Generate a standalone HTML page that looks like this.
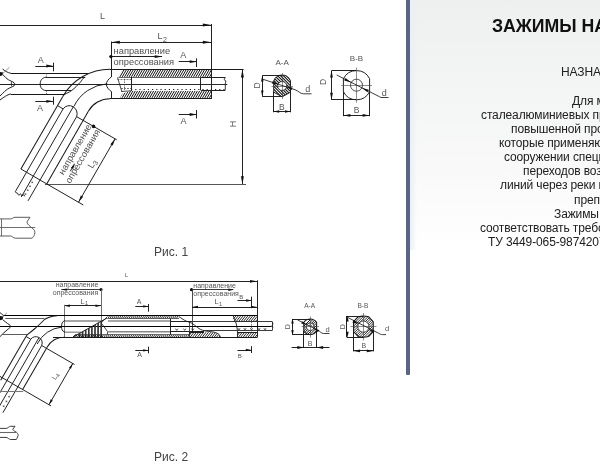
<!DOCTYPE html>
<html><head><meta charset="utf-8"><title>Зажимы натяжные</title>
<style>
html,body{margin:0;padding:0;background:#fff;}
body{width:600px;height:467px;overflow:hidden;position:relative;font-family:"Liberation Sans",sans-serif;}
#panel{position:absolute;left:410px;top:0;width:190px;height:467px;background:linear-gradient(to bottom,#eeefef 0px,#f4f5f5 100px,#fafafa 185px,#ffffff 250px);}
#edge{position:absolute;left:410px;top:0;width:7px;height:250px;background:linear-gradient(to right,#eaf0f2,rgba(240,241,241,0));}
#bar{position:absolute;left:406px;top:0;width:4px;height:374.5px;background:#5a6487;border-radius:0 0 1px 1px;}
.t{position:absolute;white-space:nowrap;color:#202020;font-size:12px;line-height:14px;letter-spacing:-0.12px;}
#title{position:absolute;left:491.9px;top:15.7px;font-size:17.7px;font-weight:bold;color:#111;white-space:nowrap;line-height:20px;}
svg{position:absolute;left:0;top:0;will-change:transform;}
.t,#title{will-change:transform;}
svg text{font-family:"Liberation Sans",sans-serif;}
</style></head><body>
<div id="panel"></div><div id="edge"></div><div id="bar"></div>
<div id="title">ЗАЖИМЫ НАТЯЖНЫЕ</div>
<div class="t" style="left:561.4px;top:65.1px">НАЗНАЧЕНИЕ</div>
<div class="t" style="left:571.8px;top:93.55px">Для монтажа</div>
<div class="t" style="left:480.6px;top:107.69px">сталеалюминиевых проводов</div>
<div class="t" style="left:510.6px;top:121.83px">повышенной прочности,</div>
<div class="t" style="left:499.0px;top:135.97px">которые применяются при</div>
<div class="t" style="left:503.55px;top:150.11px">сооружении специальных</div>
<div class="t" style="left:523.3px;top:164.25px">переходов воздушных</div>
<div class="t" style="left:500px;top:178.39px">линий через реки и другие</div>
<div class="t" style="left:573.75px;top:192.53px">препятствия.</div>
<div class="t" style="left:553.75px;top:206.67px">Зажимы должны</div>
<div class="t" style="left:480px;top:220.81px">соответствовать требованиям</div>
<div class="t" style="left:487.6px;top:234.95px">ТУ 3449-065-98742073-2008</div>
<svg width="600" height="467" viewBox="0 0 600 467">
<line x1="0" y1="25.5" x2="211.3" y2="25.5" stroke="#181818" stroke-width="0.96" />
<polygon points="211.3,25 202.8,26.5 202.8,23.5" fill="#111"/>
<text x="102.5" y="19" font-size="9" fill="#555" text-anchor="middle" font-weight="normal" >L</text>
<line x1="111.3" y1="42.5" x2="211.3" y2="42.5" stroke="#181818" stroke-width="0.96" />
<polygon points="111.3,42.3 119.8,40.8 119.8,43.8" fill="#111"/>
<polygon points="211.3,42.3 202.8,43.8 202.8,40.8" fill="#111"/>
<text x="160" y="39" font-size="9" fill="#555" text-anchor="middle" font-weight="normal" >L</text>
<text x="163" y="41.5" font-size="7" fill="#555" text-anchor="start" font-weight="normal" >2</text>
<line x1="111.5" y1="41.5" x2="111.5" y2="77" stroke="#181818" stroke-width="0.96" />
<line x1="111.5" y1="91.5" x2="111.5" y2="99" stroke="#181818" stroke-width="0.96" />
<line x1="211.5" y1="24" x2="211.5" y2="99" stroke="#181818" stroke-width="0.96" />
<text x="113.6" y="54.4" font-size="9.3" fill="#505050" text-anchor="start" font-weight="normal" >направление</text>
<text x="113.6" y="64.6" font-size="9.3" fill="#505050" text-anchor="start" font-weight="normal" >опрессования</text>
<line x1="110.7" y1="56.5" x2="162" y2="56.5" stroke="#181818" stroke-width="0.96" />
<polygon points="162.7,56.6 154.7,57.98 154.7,55.23" fill="#111"/>
<circle cx="110.9" cy="56.6" r="1.7" stroke="none" stroke-width="0" fill="#111"/>
<text x="183.3" y="58.2" font-size="9" fill="#555" text-anchor="middle" font-weight="normal" >A</text>
<line x1="178.7" y1="61.5" x2="196.7" y2="61.5" stroke="#181818" stroke-width="0.96" />
<polygon points="196.7,61.7 189.7,63.08 189.7,60.33" fill="#111"/>
<line x1="196.5" y1="58.3" x2="196.5" y2="67" stroke="#181818" stroke-width="0.96" />
<text x="183.5" y="123.5" font-size="9" fill="#555" text-anchor="middle" font-weight="normal" >A</text>
<line x1="178.7" y1="114.5" x2="196.7" y2="114.5" stroke="#181818" stroke-width="0.96" />
<polygon points="196.7,114.5 189.7,115.88 189.7,113.12" fill="#111"/>
<line x1="196.5" y1="110" x2="196.5" y2="118.5" stroke="#181818" stroke-width="0.96" />
<text x="40.7" y="63" font-size="9" fill="#555" text-anchor="middle" font-weight="normal" >A</text>
<line x1="35.3" y1="66.5" x2="53.3" y2="66.5" stroke="#181818" stroke-width="0.96" />
<polygon points="53.3,66 46.3,67.38 46.3,64.62" fill="#111"/>
<line x1="53.5" y1="62.7" x2="53.5" y2="71.3" stroke="#181818" stroke-width="0.96" />
<text x="40" y="110.5" font-size="9" fill="#555" text-anchor="middle" font-weight="normal" >A</text>
<line x1="35.3" y1="101.5" x2="53.3" y2="101.5" stroke="#181818" stroke-width="0.96" />
<polygon points="53.3,101.3 46.3,102.67 46.3,99.92" fill="#111"/>
<line x1="53.5" y1="96.7" x2="53.5" y2="104.7" stroke="#181818" stroke-width="0.96" />
<line x1="111.3" y1="69.5" x2="243.6" y2="69.5" stroke="#181818" stroke-width="1.08" />
<line x1="111.3" y1="98.5" x2="211.3" y2="98.5" stroke="#181818" stroke-width="1.08" />
<clipPath id="cH1"><path d="M118.3 77.2 L122.4 70 H211.5 V77.2 Z"/></clipPath>
<path d="M117 73.98L119.3 70M117.62 76.9L121.6 70M119.92 76.9L123.9 70M122.22 76.9L126.2 70M124.52 76.9L128.5 70M126.82 76.9L130.8 70M129.12 76.9L133.1 70M131.42 76.9L135.4 70M133.72 76.9L137.7 70M136.02 76.9L140 70M138.32 76.9L142.3 70M140.62 76.9L144.6 70M142.92 76.9L146.9 70M145.22 76.9L149.2 70M147.52 76.9L151.5 70M149.82 76.9L153.8 70M152.12 76.9L156.1 70M154.42 76.9L158.4 70M156.72 76.9L160.7 70M159.02 76.9L163 70M161.32 76.9L165.3 70M163.62 76.9L167.6 70M165.92 76.9L169.9 70M168.22 76.9L172.2 70M170.52 76.9L174.5 70M172.82 76.9L176.8 70M175.12 76.9L179.1 70M177.42 76.9L181.4 70M179.72 76.9L183.7 70M182.02 76.9L186 70M184.32 76.9L188.3 70M186.62 76.9L190.6 70M188.92 76.9L192.9 70M191.22 76.9L195.2 70M193.52 76.9L197.5 70M195.82 76.9L199.8 70M198.12 76.9L202.1 70M200.42 76.9L204.4 70M202.72 76.9L206.7 70M205.02 76.9L209 70M207.32 76.9L211.3 70M209.62 76.9L211.5 73.64" stroke="#000" stroke-width="0.9359999999999999" fill="none" clip-path="url(#cH1)"/>
<clipPath id="cH2"><path d="M119.8 98.2 L122.3 93.8 L131.3 90.7 H211.5 V98.2 Z"/></clipPath>
<path d="M117 94.68L119.3 90.7M117.44 97.9L121.6 90.7M119.74 97.9L123.9 90.7M122.04 97.9L126.2 90.7M124.34 97.9L128.5 90.7M126.64 97.9L130.8 90.7M128.94 97.9L133.1 90.7M131.24 97.9L135.4 90.7M133.54 97.9L137.7 90.7M135.84 97.9L140 90.7M138.14 97.9L142.3 90.7M140.44 97.9L144.6 90.7M142.74 97.9L146.9 90.7M145.04 97.9L149.2 90.7M147.34 97.9L151.5 90.7M149.64 97.9L153.8 90.7M151.94 97.9L156.1 90.7M154.24 97.9L158.4 90.7M156.54 97.9L160.7 90.7M158.84 97.9L163 90.7M161.14 97.9L165.3 90.7M163.44 97.9L167.6 90.7M165.74 97.9L169.9 90.7M168.04 97.9L172.2 90.7M170.34 97.9L174.5 90.7M172.64 97.9L176.8 90.7M174.94 97.9L179.1 90.7M177.24 97.9L181.4 90.7M179.54 97.9L183.7 90.7M181.84 97.9L186 90.7M184.14 97.9L188.3 90.7M186.44 97.9L190.6 90.7M188.74 97.9L192.9 90.7M191.04 97.9L195.2 90.7M193.34 97.9L197.5 90.7M195.64 97.9L199.8 90.7M197.94 97.9L202.1 90.7M200.24 97.9L204.4 90.7M202.54 97.9L206.7 90.7M204.84 97.9L209 90.7M207.14 97.9L211.3 90.7M209.44 97.9L211.5 94.34" stroke="#000" stroke-width="0.9359999999999999" fill="none" clip-path="url(#cH2)"/>
<line x1="118.4" y1="77.5" x2="211.3" y2="77.5" stroke="#444" stroke-width="0.84" />
<path d="M117.5 77.5 L122 92" stroke="#222" stroke-width="0.84" fill="none" />
<line x1="131.5" y1="77" x2="131.5" y2="91" stroke="#181818" stroke-width="0.96" />
<line x1="117.5" y1="79.5" x2="131" y2="79.5" stroke="#444" stroke-width="0.72" stroke-dasharray="2 1"/>
<line x1="124.5" y1="79" x2="124.5" y2="90" stroke="#333" stroke-width="0.72" stroke-dasharray="1.5 1"/>
<line x1="121" y1="88.5" x2="131" y2="88.5" stroke="#444" stroke-width="0.72" stroke-dasharray="2 1"/>
<path d="M121.5 91.5 L131.2 90.8" stroke="#222" stroke-width="0.84" fill="none" />
<line x1="106.3" y1="84.5" x2="227.3" y2="84.5" stroke="#222" stroke-width="0.96" />
<line x1="201.2" y1="77.5" x2="225.3" y2="77.5" stroke="#181818" stroke-width="0.96" />
<line x1="201.2" y1="90.5" x2="225.3" y2="90.5" stroke="#181818" stroke-width="0.96" />
<line x1="200.5" y1="77.5" x2="200.5" y2="90.3" stroke="#181818" stroke-width="0.96" />
<path d="M225.3 77.5 l-1.2 2.2 l1.8 1.2 l-0.6 3 v6" stroke="#181818" stroke-width="0.84" fill="none" />
<line x1="131" y1="89.5" x2="225" y2="89.5" stroke="#222" stroke-width="1.08" stroke-dasharray="1.2 3"/>
<line x1="242.5" y1="69.6" x2="242.5" y2="184.2" stroke="#181818" stroke-width="0.96" />
<polygon points="242.4,69.6 243.9,77.6 240.9,77.6" fill="#111"/>
<polygon points="242.4,184.2 240.9,176.2 243.9,176.2" fill="#111"/>
<line x1="45" y1="184.5" x2="246" y2="184.5" stroke="#555" stroke-width="1.08" />
<text x="235.5" y="124" font-size="9" fill="#555" text-anchor="middle" font-weight="normal" transform="rotate(-90 235.5 124)" >H</text>
<line x1="10.9" y1="73.5" x2="88.2" y2="73.5" stroke="#181818" stroke-width="1.08" />
<line x1="46" y1="77.5" x2="85.2" y2="77.5" stroke="#181818" stroke-width="0.96" />
<line x1="0" y1="84.5" x2="107" y2="84.5" stroke="#181818" stroke-width="0.96" />
<line x1="46" y1="90.5" x2="71.5" y2="90.5" stroke="#181818" stroke-width="0.96" />
<line x1="11" y1="94.5" x2="65.2" y2="94.5" stroke="#181818" stroke-width="1.08" />
<path d="M46 77.2 C41.5 77.8 40.2 81 40.2 84 C40.2 87 41.5 90 46 90.6" stroke="#181818" stroke-width="0.96" fill="none" />
<line x1="46.5" y1="73.3" x2="46.5" y2="77.2" stroke="#444" stroke-width="0.72" stroke-dasharray="1.2 1"/>
<line x1="46.5" y1="90.6" x2="46.5" y2="94" stroke="#444" stroke-width="0.72" stroke-dasharray="1.2 1"/>
<path d="M85.2 77.2 C82.5 78 82 80.5 80.2 82.4 C77 85.5 75 88.2 71.5 90.6 C69 92.3 67 93.4 64.4 94.1" stroke="#181818" stroke-width="0.96" fill="none" />
<path d="M2.6 69 C4.5 70.5 7.5 72.8 10.9 73.3" stroke="#181818" stroke-width="0.96" fill="none" />
<path d="M2.6 74.3 C4.5 76.5 6.5 78.6 8.5 79.8 C10.3 80.9 12 81.3 12.9 82 C14.8 82.8 15.2 84.9 14 85.8 C12.6 86.8 10 87.6 7.7 89 C5.5 90.4 3.5 92.6 0 96" stroke="#181818" stroke-width="0.96" fill="none" />
<path d="M12 81.6 C11 82.8 11 85.3 12 86.5" stroke="#181818" stroke-width="0.84" fill="none" />
<path d="M11 94 C8.5 94.3 6 95.6 0 100" stroke="#181818" stroke-width="0.96" fill="none" />
<polygon points="0,72 3.2,72.6 2.2,75.6 0,76" fill="#111"/>
<line x1="2.6" y1="73.6" x2="9.6" y2="67.2" stroke="#555" stroke-width="0.6" />
<line x1="110" y1="69.5" x2="111.5" y2="69.5" stroke="#181818" stroke-width="1.02" />
<path d="M110 69.2 A54.5 54.5 0 0 0 62.8 96.45" stroke="#181818" stroke-width="1.02" fill="none" />
<line x1="110" y1="98.5" x2="111.5" y2="98.5" stroke="#181818" stroke-width="1.02" />
<path d="M110 98.7 A25 25 0 0 0 88.35 111.2" stroke="#181818" stroke-width="1.02" fill="none" />
<path d="M107.21 83.8 A40 40 0 0 0 74.05 106.17" stroke="#181818" stroke-width="0.96" fill="none" />
<path d="M111.5 76.8 C108.5 79 106.5 81.5 106.3 84.2 C106.5 87 108.5 89.5 111.5 91.7" stroke="#181818" stroke-width="0.96" fill="none" />
<line x1="62.8" y1="96.45" x2="20.9" y2="168.99" stroke="#181818" stroke-width="1.02" />
<line x1="88.35" y1="111.2" x2="46.71" y2="183.89" stroke="#181818" stroke-width="1.02" />
<line x1="63.13" y1="108.85" x2="15.28" y2="191.73" stroke="#181818" stroke-width="0.96" />
<line x1="73.48" y1="106.51" x2="21.28" y2="196.93" stroke="#181818" stroke-width="0.96" />
<line x1="76.64" y1="116.65" x2="28.04" y2="200.83" stroke="#181818" stroke-width="0.96" />
<line x1="57.5" y1="105.6" x2="63.13" y2="108.85" stroke="#181818" stroke-width="0.96" />
<path d="M63.13 108.85 A7.8 8.19 0 0 1 76.64 116.65" stroke="#181818" stroke-width="0.96" fill="none" />
<line x1="76.64" y1="116.65" x2="116.82" y2="139.85" stroke="#181818" stroke-width="0.96" />
<line x1="20.9" y1="168.99" x2="83.25" y2="204.99" stroke="#181818" stroke-width="0.96" />
<line x1="115.09" y1="138.85" x2="78.49" y2="202.24" stroke="#181818" stroke-width="0.96" />
<polygon points="115.09,138.85 112.78,145.6 110.4,144.22" fill="#111"/>
<polygon points="78.49,202.24 80.8,195.49 83.18,196.87" fill="#111"/>
<circle cx="93.53" cy="126.4" r="1.8" stroke="none" stroke-width="0" fill="#111"/>
<path d="M15.28 191.73 q0.5 1.6 2 1.2 l1.5 2.4 l1.8 -1.6 l1.2 2.2 l2.2 -1.2 l0.8 1.6" stroke="#181818" stroke-width="0.84" fill="none" />
<path d="M31.19 182.04l2 0.8M31.99 183.24l0.6 -1.8" stroke="#333" stroke-width="0.6" fill="none" />
<path d="M28.94 185.94l2 0.8M29.74 187.14l0.6 -1.8" stroke="#333" stroke-width="0.6" fill="none" />
<path d="M26.69 189.83l2 0.8M27.49 191.03l0.6 -1.8" stroke="#333" stroke-width="0.6" fill="none" />
<path d="M24.44 193.73l2 0.8M25.24 194.93l0.6 -1.8" stroke="#333" stroke-width="0.6" fill="none" />
<text x="63.61" y="175.41" font-size="9.3" fill="#505050" text-anchor="start" font-weight="normal" transform="rotate(-60 63.61 175.41)" >направление</text>
<text x="70.22" y="183.96" font-size="9.3" fill="#505050" text-anchor="start" font-weight="normal" transform="rotate(-60 70.22 183.96)" >опрессования</text>
<line x1="74.27" y1="164.36" x2="70.27" y2="171.28" stroke="#181818" stroke-width="0.96" />
<polygon points="75.02,163.06 73.1,168.88 70.94,167.63" fill="#111"/>
<text x="92.44" y="169.08" font-size="9" fill="#555" text-anchor="start" font-weight="normal" transform="rotate(-60 92.44 169.08)" >L</text>
<text x="96.68" y="165.75" font-size="7" fill="#555" text-anchor="start" font-weight="normal" transform="rotate(-60 96.68 165.75)" >3</text>
<path d="M0 218.9 H10.7 C12.5 218.9 13 217.3 15 217.3 H30 L26.9 222 C27.5 224.5 29.5 226 31.5 227.6 C34.5 229.5 35.5 231.5 34.6 234.2 C34 236.2 33 237.5 32 238.2 H15.5 C13 238.2 12.5 236 10.7 236 H0" stroke="#555" stroke-width="0.96" fill="none" />
<line x1="0" y1="227.5" x2="35.3" y2="227.5" stroke="#555" stroke-width="0.84" />
<line x1="1.5" y1="218.9" x2="1.5" y2="236" stroke="#555" stroke-width="0.84" />
<text x="154" y="256" font-size="12" fill="#444" text-anchor="start" font-weight="normal" >Рис. 1</text>
<text x="282.2" y="65" font-size="8" fill="#555" text-anchor="middle" font-weight="normal" >A-A</text>
<clipPath id="cAA"><path d="M273.7 81 A8.9 8.9 0 0 1 290.5 81 V92.2 L282.2 96.8 L273.7 92.2 Z M286.7 86 A4.5 4.5 0 1 0 277.7 86 A4.5 4.5 0 1 0 286.7 86 Z" clip-rule="evenodd"/></clipPath>
<path d="M240 70L270 100M242.9 70L272.9 100M245.8 70L275.8 100M248.7 70L278.7 100M251.6 70L281.6 100M254.5 70L284.5 100M257.4 70L287.4 100M260.3 70L290.3 100M263.2 70L293.2 100M266.1 70L296.1 100M269 70L299 100M271.9 70L301.9 100M274.8 70L304.8 100M277.7 70L307.7 100M280.6 70L310.6 100M283.5 70L313.5 100M286.4 70L316.4 100M289.3 70L319.3 100M292.2 70L322.2 100M295.1 70L325.1 100M298 70L328 100" stroke="#111" stroke-width="1.08" fill="none" clip-path="url(#cAA)"/>
<path d="M273.7 81 A8.9 8.9 0 0 1 290.5 81 V92.2 L282.2 96.8 L273.7 92.2 Z" stroke="#181818" stroke-width="0.96" fill="none" />
<circle cx="282.2" cy="86" r="4.5" stroke="#222" stroke-width="0.8" fill="none"/>
<line x1="282.5" y1="73" x2="282.5" y2="99" stroke="#444" stroke-width="0.6" />
<line x1="271.5" y1="86.5" x2="293" y2="86.5" stroke="#444" stroke-width="0.6" />
<line x1="262.5" y1="75.5" x2="262.5" y2="96.6" stroke="#181818" stroke-width="0.96" />
<line x1="262.3" y1="75.5" x2="282" y2="75.5" stroke="#181818" stroke-width="0.96" />
<line x1="262.3" y1="96.5" x2="282" y2="96.5" stroke="#181818" stroke-width="0.96" />
<polygon points="262.3,75.5 263.55,81.5 261.05,81.5" fill="#111"/>
<polygon points="262.3,96.6 261.05,90.6 263.55,90.6" fill="#111"/>
<text x="259.5" y="85.5" font-size="8.5" fill="#555" text-anchor="middle" font-weight="normal" transform="rotate(-90 259.5 85.5)" >D</text>
<line x1="273.5" y1="92" x2="273.5" y2="112.3" stroke="#181818" stroke-width="0.96" />
<line x1="290.5" y1="92" x2="290.5" y2="112.3" stroke="#181818" stroke-width="0.96" />
<line x1="273.7" y1="111.5" x2="290.5" y2="111.5" stroke="#181818" stroke-width="0.96" />
<polygon points="273.7,111.5 279.2,110.25 279.2,112.75" fill="#111"/>
<polygon points="290.5,111.5 285,112.75 285,110.25" fill="#111"/>
<text x="281.9" y="110" font-size="8.5" fill="#555" text-anchor="middle" font-weight="normal" >B</text>
<path d="M262.7 79.2 L295 89.7 C299 91.2 300 93.7 303.5 93.8 H311.5" stroke="#181818" stroke-width="0.84" fill="none" />
<polygon points="278,84.2 271.91,83.53 272.68,81.16" fill="#111"/>
<polygon points="286.4,86.9 292.49,87.57 291.72,89.94" fill="#111"/>
<text x="307.7" y="91.5" font-size="9" fill="#555" text-anchor="middle" font-weight="normal" >d</text>
<text x="356.5" y="61" font-size="8" fill="#555" text-anchor="middle" font-weight="normal" >B-B</text>
<path d="M343.4 78.75 A14.6 14.6 0 0 1 369.6 78.75 V91.65 A14.6 14.6 0 0 1 343.4 91.65 Z" stroke="#181818" stroke-width="0.96" fill="none" />
<circle cx="356.5" cy="85.2" r="6" stroke="#222" stroke-width="0.8" fill="none"/>
<line x1="356.5" y1="67.5" x2="356.5" y2="102.7" stroke="#444" stroke-width="0.6" />
<line x1="341.2" y1="85.5" x2="372" y2="85.5" stroke="#444" stroke-width="0.6" />
<line x1="331.5" y1="70.6" x2="331.5" y2="99.8" stroke="#181818" stroke-width="0.96" />
<line x1="331.5" y1="70.5" x2="356" y2="70.5" stroke="#181818" stroke-width="0.96" />
<line x1="331.5" y1="99.5" x2="356" y2="99.5" stroke="#181818" stroke-width="0.96" />
<polygon points="331.5,70.6 332.88,77.6 330.12,77.6" fill="#111"/>
<polygon points="331.5,99.8 330.12,92.8 332.88,92.8" fill="#111"/>
<text x="326.2" y="82" font-size="8.5" fill="#555" text-anchor="middle" font-weight="normal" transform="rotate(-90 326.2 82)" >D</text>
<line x1="343.5" y1="91.65" x2="343.5" y2="116.2" stroke="#181818" stroke-width="0.96" />
<line x1="369.5" y1="91.65" x2="369.5" y2="116.2" stroke="#181818" stroke-width="0.96" />
<line x1="343.4" y1="115.5" x2="369.6" y2="115.5" stroke="#181818" stroke-width="0.96" />
<polygon points="343.4,115.4 350.4,114.03 350.4,116.78" fill="#111"/>
<polygon points="369.6,115.4 362.6,116.78 362.6,114.03" fill="#111"/>
<text x="356.5" y="113.2" font-size="8.5" fill="#555" text-anchor="middle" font-weight="normal" >B</text>
<path d="M336.7 75 L379.5 96.7 L381 97.5 H388.5" stroke="#181818" stroke-width="0.84" fill="none" />
<polygon points="351.1,82.4 344.24,80.45 345.49,78" fill="#111"/>
<polygon points="361.9,87.9 368.76,89.85 367.51,92.3" fill="#111"/>
<text x="384.3" y="96" font-size="9" fill="#555" text-anchor="middle" font-weight="normal" >d</text>
<line x1="0" y1="281.5" x2="257" y2="281.5" stroke="#181818" stroke-width="0.96" />
<polygon points="257,281.3 250,282.68 250,279.93" fill="#111"/>
<line x1="257.5" y1="280.3" x2="257.5" y2="337.5" stroke="#181818" stroke-width="0.96" />
<text x="126.3" y="277" font-size="6" fill="#555" text-anchor="middle" font-weight="normal" >L</text>
<text x="98.3" y="287.3" font-size="7" fill="#555" text-anchor="end" font-weight="normal" >направление</text>
<text x="98.3" y="295.4" font-size="7" fill="#555" text-anchor="end" font-weight="normal" >опрессования</text>
<line x1="61.3" y1="289.5" x2="101" y2="289.5" stroke="#181818" stroke-width="0.84" />
<polygon points="61.3,289.6 66.8,288.41 66.8,290.79" fill="#111"/>
<circle cx="101" cy="289.6" r="1.6" stroke="none" stroke-width="0" fill="#111"/>
<line x1="101.5" y1="289.6" x2="101.5" y2="320.8" stroke="#666" stroke-width="0.96" />
<line x1="64.4" y1="305.5" x2="101" y2="305.5" stroke="#181818" stroke-width="0.96" />
<polygon points="64.4,305.7 69.9,304.51 69.9,306.89" fill="#111"/>
<polygon points="101,305.7 95.5,306.89 95.5,304.51" fill="#111"/>
<line x1="64.5" y1="304.8" x2="64.5" y2="337.5" stroke="#707070" stroke-width="0.96" />
<text x="82.5" y="303.5" font-size="7.5" fill="#555" text-anchor="middle" font-weight="normal" >L</text>
<text x="85" y="305.3" font-size="5.5" fill="#555" text-anchor="start" font-weight="normal" >1</text>
<text x="139" y="304.3" font-size="7" fill="#555" text-anchor="middle" font-weight="normal" >A</text>
<line x1="135.3" y1="306.5" x2="148.7" y2="306.5" stroke="#181818" stroke-width="0.96" />
<polygon points="148.7,306.4 143.2,307.59 143.2,305.21" fill="#111"/>
<line x1="148.5" y1="304" x2="148.5" y2="311.7" stroke="#181818" stroke-width="0.96" />
<text x="139.6" y="357.4" font-size="7" fill="#555" text-anchor="middle" font-weight="normal" >A</text>
<line x1="135.3" y1="350.5" x2="148.7" y2="350.5" stroke="#181818" stroke-width="0.96" />
<polygon points="148.7,350.4 143.2,351.59 143.2,349.21" fill="#111"/>
<line x1="148.5" y1="346.7" x2="148.5" y2="353.3" stroke="#181818" stroke-width="0.96" />
<text x="193.3" y="287.6" font-size="7" fill="#555" text-anchor="start" font-weight="normal" >направление</text>
<text x="193.3" y="295.5" font-size="7" fill="#555" text-anchor="start" font-weight="normal" >опрессования</text>
<line x1="191.3" y1="289.5" x2="233.3" y2="289.5" stroke="#181818" stroke-width="0.84" />
<polygon points="233.8,289.7 228.3,290.89 228.3,288.51" fill="#111"/>
<circle cx="191.5" cy="289.7" r="1.6" stroke="none" stroke-width="0" fill="#111"/>
<line x1="192.5" y1="289.7" x2="192.5" y2="333" stroke="#444" stroke-width="0.96" />
<text x="241.3" y="298.8" font-size="6" fill="#555" text-anchor="middle" font-weight="normal" >B</text>
<line x1="237.5" y1="300.5" x2="251.7" y2="300.5" stroke="#181818" stroke-width="0.96" />
<polygon points="251.7,300.5 246.2,301.69 246.2,299.31" fill="#111"/>
<line x1="251.5" y1="296.7" x2="251.5" y2="306.7" stroke="#181818" stroke-width="0.96" />
<text x="239.7" y="358" font-size="6" fill="#555" text-anchor="middle" font-weight="normal" >B</text>
<line x1="237.5" y1="350.5" x2="251.3" y2="350.5" stroke="#181818" stroke-width="0.96" />
<polygon points="251.3,350 245.8,351.19 245.8,348.81" fill="#111"/>
<line x1="251.5" y1="346.2" x2="251.5" y2="353" stroke="#181818" stroke-width="0.96" />
<line x1="192" y1="307.5" x2="257" y2="307.5" stroke="#181818" stroke-width="0.96" />
<polygon points="192,307 198,305.75 198,308.25" fill="#111"/>
<polygon points="257,307 251,308.25 251,305.75" fill="#111"/>
<text x="216.5" y="304" font-size="7.5" fill="#555" text-anchor="middle" font-weight="normal" >L</text>
<text x="219" y="306" font-size="5.5" fill="#555" text-anchor="start" font-weight="normal" >1</text>
<line x1="4" y1="315.5" x2="257" y2="315.5" stroke="#000" stroke-width="1.14" />
<line x1="53" y1="337.5" x2="257" y2="337.5" stroke="#181818" stroke-width="1.08" />
<line x1="0" y1="326.5" x2="271.7" y2="326.5" stroke="#000" stroke-width="1.08" />
<line x1="5.3" y1="318.5" x2="44.5" y2="318.5" stroke="#555" stroke-width="0.96" />
<path d="M0 312.6 C1.5 313.8 2.8 315.2 4 315.6" stroke="#181818" stroke-width="0.96" fill="none" />
<polygon points="0,315.9 3.3,316.4 2.7,319.6 0,320.2" fill="#111"/>
<line x1="2" y1="317.6" x2="7" y2="312.8" stroke="#555" stroke-width="0.6" />
<path d="M2.9 319.8 C4.5 321.2 6 322.3 7.3 323.3 C8.6 324.2 9.6 324.9 10.1 325.4 C10.9 326 10.9 326.8 10.2 327.4 C9.2 328.3 7.6 329.5 6 330.9 C4.2 332.4 2.3 334.3 0 336.6" stroke="#181818" stroke-width="0.96" fill="none" />
<line x1="2" y1="334.5" x2="27.5" y2="334.5" stroke="#555" stroke-width="0.96" />
<path d="M65 320.5 C62 321.5 61.5 324 61.5 326.5 C61.5 329 62 331.2 65 332.2" stroke="#181818" stroke-width="0.96" fill="none" />
<line x1="65" y1="321" x2="101" y2="321" stroke="#888" stroke-width="1.5"/>
<line x1="65" y1="332.2" x2="81" y2="332.2" stroke="#888" stroke-width="1.3"/>
<clipPath id="cCut"><path d="M73 337 L107 318 V337 Z"/></clipPath>
<path d="M79.5 316V338M82.6 316V338M85.7 316V338M88.8 316V338M91.9 316V338M95 316V338M98.1 316V338M101.2 316V338" stroke="#333" stroke-width="1.68" fill="none" clip-path="url(#cCut)"/>
<line x1="73" y1="337" x2="107" y2="318" stroke="#181818" stroke-width="0.96" />
<path d="M107.96 318.6L109.4 316.1M109.86 318.6L111.3 316.1M111.76 318.6L113.2 316.1M113.66 318.6L115.1 316.1M115.56 318.6L117 316.1M117.46 318.6L118.9 316.1M119.36 318.6L120.8 316.1M121.26 318.6L122.7 316.1M123.16 318.6L124.6 316.1M125.06 318.6L126.5 316.1M126.96 318.6L128.4 316.1M128.86 318.6L130.3 316.1M130.76 318.6L132.2 316.1M132.66 318.6L134.1 316.1M134.56 318.6L136 316.1M136.46 318.6L137.9 316.1M138.36 318.6L139.8 316.1M140.26 318.6L141.7 316.1M142.16 318.6L143.6 316.1M144.06 318.6L145.5 316.1M145.96 318.6L147.4 316.1M147.86 318.6L149.3 316.1M149.76 318.6L151.2 316.1M151.66 318.6L153.1 316.1M153.56 318.6L155 316.1M155.46 318.6L156.9 316.1M157.36 318.6L158.8 316.1M159.26 318.6L160.7 316.1M161.16 318.6L162.6 316.1M163.06 318.6L164.5 316.1M164.96 318.6L166.4 316.1M166.86 318.6L168.3 316.1M168.76 318.6L170.2 316.1M170.66 318.6L172.1 316.1M172.56 318.6L174 316.1M174.46 318.6L175.9 316.1M176.36 318.6L177.8 316.1M178.26 318.6L178.7 317.83" stroke="#000" stroke-width="0.78" fill="none" />
<line x1="107.5" y1="318.5" x2="178.7" y2="318.5" stroke="#333" stroke-width="0.72" />
<path d="M73.63 337.1L74.9 334.9M75.53 337.1L76.8 334.9M77.43 337.1L78.7 334.9M79.33 337.1L80.6 334.9M81.23 337.1L82.5 334.9M83.13 337.1L84.4 334.9M85.03 337.1L86.3 334.9M86.93 337.1L88.2 334.9M88.83 337.1L90.1 334.9M90.73 337.1L92 334.9M92.63 337.1L93.9 334.9M94.53 337.1L95.8 334.9M96.43 337.1L97.7 334.9M98.33 337.1L99.6 334.9M100.23 337.1L101.5 334.9M102.13 337.1L103.4 334.9M104.03 337.1L105.3 334.9M105.93 337.1L107.2 334.9M107.83 337.1L109.1 334.9M109.73 337.1L111 334.9M111.63 337.1L112.9 334.9M113.53 337.1L114.8 334.9M115.43 337.1L116.7 334.9M117.33 337.1L118.6 334.9M119.23 337.1L120.5 334.9M121.13 337.1L122.4 334.9M123.03 337.1L124.3 334.9M124.93 337.1L126.2 334.9M126.83 337.1L128.1 334.9M128.73 337.1L130 334.9M130.63 337.1L131.9 334.9M132.53 337.1L133.8 334.9M134.43 337.1L135.7 334.9M136.33 337.1L137.6 334.9M138.23 337.1L139.5 334.9M140.13 337.1L141.4 334.9M142.03 337.1L143.3 334.9M143.93 337.1L145.2 334.9M145.83 337.1L147.1 334.9M147.73 337.1L149 334.9M149.63 337.1L150.9 334.9M151.53 337.1L152.8 334.9M153.43 337.1L154.7 334.9M155.33 337.1L156.6 334.9M157.23 337.1L158.5 334.9M159.13 337.1L160.4 334.9M161.03 337.1L162.3 334.9M162.93 337.1L164.2 334.9M164.83 337.1L166.1 334.9M166.73 337.1L168 334.9M168.63 337.1L169.9 334.9M170.53 337.1L171.8 334.9M172.43 337.1L173.7 334.9M174.33 337.1L175.6 334.9M176.23 337.1L177.5 334.9M178.13 337.1L179.4 334.9M180.03 337.1L181.3 334.9M181.93 337.1L183.2 334.9M183.83 337.1L185.1 334.9M185.73 337.1L187 334.9M187.63 337.1L188.9 334.9" stroke="#000" stroke-width="0.78" fill="none" />
<line x1="75" y1="334.5" x2="189.3" y2="334.5" stroke="#333" stroke-width="0.72" />
<path d="M107.5 316.5 L101.3 322.8 M102 324 L107.5 331.5 V334.5" stroke="#222" stroke-width="0.84" fill="none" />
<line x1="108" y1="321" x2="170.5" y2="321" stroke="#888" stroke-width="1.5"/>
<line x1="107" y1="331.7" x2="170.5" y2="331.7" stroke="#888" stroke-width="1.5"/>
<line x1="170.5" y1="318.8" x2="170.5" y2="334.7" stroke="#181818" stroke-width="0.96" />
<line x1="170.7" y1="321.5" x2="192" y2="321.5" stroke="#181818" stroke-width="0.96" />
<line x1="170.7" y1="331.5" x2="204" y2="331.5" stroke="#181818" stroke-width="0.96" />
<line x1="189.5" y1="321.7" x2="189.5" y2="334.7" stroke="#333" stroke-width="0.84" />
<path d="M175.5 328.6l1.2 1.8l1.2 -1.8" stroke="#111" stroke-width="0.72" fill="none" />
<path d="M183.5 328.6l1.2 1.8l1.2 -1.8" stroke="#111" stroke-width="0.72" fill="none" />
<path d="M191.5 328.6l1.2 1.8l1.2 -1.8" stroke="#111" stroke-width="0.72" fill="none" />
<path d="M233.3 319.17L235.7 316.1M234.27 321L238.1 316.1M236.67 321L240.5 316.1M239.07 321L242.9 316.1M241.47 321L245.3 316.1M243.87 321L247.7 316.1M246.27 321L250.1 316.1M248.67 321L252.5 316.1M251.07 321L254.9 316.1M253.47 321L257 316.48M255.87 321L257 319.56" stroke="#000" stroke-width="0.84" fill="none" />
<path d="M237.5 335.27L239.9 332.2M238.47 337.1L242.3 332.2M240.87 337.1L244.7 332.2M243.27 337.1L247.1 332.2M245.67 337.1L249.5 332.2M248.07 337.1L251.9 332.2M250.47 337.1L254.3 332.2M252.87 337.1L256.7 332.2M255.27 337.1L257 334.89" stroke="#000" stroke-width="0.84" fill="none" />
<clipPath id="cB2"><path d="M189.3 331.9 H212 C216 332.3 218.5 333.5 220.5 337.2 H189.3 Z"/></clipPath>
<path d="M189.3 335.27L191.7 332.2M190.27 337.1L194.1 332.2M192.67 337.1L196.5 332.2M195.07 337.1L198.9 332.2M197.47 337.1L201.3 332.2M199.87 337.1L203.7 332.2M202.27 337.1L206.1 332.2M204.67 337.1L208.5 332.2M207.07 337.1L210.9 332.2M209.47 337.1L213.3 332.2M211.87 337.1L215.7 332.2M214.27 337.1L218.1 332.2M216.67 337.1L220.5 332.2M219.07 337.1L221 334.63" stroke="#000" stroke-width="0.84" fill="none" clip-path="url(#cB2)"/>
<line x1="189.3" y1="332.5" x2="204" y2="332.5" stroke="#181818" stroke-width="0.96" />
<line x1="189.5" y1="332" x2="189.5" y2="337.5" stroke="#181818" stroke-width="0.84" />
<line x1="233.3" y1="321.5" x2="257" y2="321.5" stroke="#181818" stroke-width="0.96" />
<line x1="237.5" y1="332.5" x2="257" y2="332.5" stroke="#181818" stroke-width="0.96" />
<path d="M233.3 315.6 C233.5 318 235.5 321 236.3 324 C237 327 237.3 329.5 237.5 332 V337.5" stroke="#181818" stroke-width="0.8999999999999999" fill="none" />
<path d="M178.7 316.5 C182 318.5 184 320.3 186.7 321.3 C189 322.2 190.5 322.5 192 323.3 C194 324.5 195.5 326 197.3 327.3 C199.5 329 201.5 330 204 330.7 C207 331.5 210 331.5 213.3 332 C216 332.5 218 333.5 219.3 334.7 L220.5 337.3" stroke="#181818" stroke-width="0.8999999999999999" fill="none" />
<line x1="192" y1="321.5" x2="272" y2="321.5" stroke="#333" stroke-width="0.96" />
<line x1="204" y1="330.5" x2="272" y2="330.5" stroke="#333" stroke-width="0.96" />
<line x1="272.5" y1="321.6" x2="272.5" y2="330.6" stroke="#181818" stroke-width="0.84" />
<path d="M272 321.6 l1 2.2 l-1 1.8 l1.2 1.8" stroke="#181818" stroke-width="0.72" fill="none" />
<path d="M237.9 328.2l1.1 1.7l1.1 -1.7" stroke="#111" stroke-width="0.72" fill="none" />
<path d="M243.9 328.2l1.1 1.7l1.1 -1.7" stroke="#111" stroke-width="0.72" fill="none" />
<path d="M250.4 328.2l1.1 1.7l1.1 -1.7" stroke="#111" stroke-width="0.72" fill="none" />
<path d="M257.9 328.2l1.1 1.7l1.1 -1.7" stroke="#111" stroke-width="0.72" fill="none" />
<path d="M263.9 328.2l1.1 1.7l1.1 -1.7" stroke="#111" stroke-width="0.72" fill="none" />
<line x1="251.5" y1="321.6" x2="251.5" y2="332" stroke="#444" stroke-width="0.72" stroke-dasharray="1.5 1"/>
<path d="M57 315.7 C51 316.2 46.5 317.6 44 320 C41 323 38 326 35 328.5 C32 331 29.5 333 28 334.2 C27 335 26.4 335.8 26 336.5" stroke="#181818" stroke-width="1.02" fill="none" />
<path d="M64.4 337.3 A20 20 0 0 0 47.08 347.3" stroke="#181818" stroke-width="1.02" fill="none" />
<path d="M61.76 327.12 A30.3 30.3 0 0 0 37.17 344.02" stroke="#181818" stroke-width="0.96" fill="none" />
<line x1="26" y1="336.5" x2="0.7" y2="380.32" stroke="#181818" stroke-width="1.02" />
<line x1="47.08" y1="347.3" x2="22.64" y2="389.52" stroke="#181818" stroke-width="1.02" />
<line x1="30.76" y1="339.25" x2="-8.04" y2="406.45" stroke="#181818" stroke-width="0.96" />
<line x1="39.02" y1="337.55" x2="-2.58" y2="409.6" stroke="#181818" stroke-width="0.96" />
<line x1="41.68" y1="345.55" x2="2.88" y2="412.75" stroke="#181818" stroke-width="0.96" />
<line x1="26" y1="336.5" x2="30.76" y2="339.25" stroke="#181818" stroke-width="0.96" />
<path d="M30.76 339.25 A6.3 6.62 0 0 1 41.68 345.55" stroke="#181818" stroke-width="0.96" fill="none" />
<line x1="41.68" y1="345.55" x2="74.5" y2="364.5" stroke="#181818" stroke-width="0.96" />
<line x1="-4.73" y1="373.72" x2="51.13" y2="405.97" stroke="#181818" stroke-width="0.96" />
<line x1="72.77" y1="363.5" x2="48.97" y2="404.72" stroke="#181818" stroke-width="0.96" />
<polygon points="72.77,363.5 71.04,368.86 68.99,367.67" fill="#111"/>
<polygon points="48.97,404.72 50.69,399.37 52.74,400.55" fill="#111"/>
<text x="55.64" y="380.17" font-size="7" fill="#555" text-anchor="start" font-weight="normal" transform="rotate(-60 55.64 380.17)" >L</text>
<text x="58.79" y="377.71" font-size="5.5" fill="#555" text-anchor="start" font-weight="normal" transform="rotate(-60 58.79 377.71)" >4</text>
<line x1="0" y1="391.5" x2="23.14" y2="391.5" stroke="#777" stroke-width="1.08" />
<path d="M8.12 396.33l2 0.8M8.92 397.53l0.6 -1.8" stroke="#333" stroke-width="0.6" fill="none" />
<path d="M5.37 401.09l2 0.8M6.17 402.29l0.6 -1.8" stroke="#333" stroke-width="0.6" fill="none" />
<path d="M2.62 405.86l2 0.8M3.42 407.06l0.6 -1.8" stroke="#333" stroke-width="0.6" fill="none" />
<path d="M0 428.4 H6 C8 428.4 8.8 426.3 10.7 426.3 H15 L12.8 429.3 C13.2 430.5 14.2 431 15 431.4 C16.5 432.3 17.3 432.8 17.5 433.5 C18.3 434.5 18.3 435.2 18 435.7 C17.6 437.3 17 438.6 16.3 439.5 H10.7 C8.8 439.5 8 437.4 6 437.4 H0" stroke="#333" stroke-width="0.96" fill="none" />
<line x1="0" y1="432.5" x2="16" y2="432.5" stroke="#666" stroke-width="1.08" />
<text x="154" y="460.8" font-size="12" fill="#444" text-anchor="start" font-weight="normal" >Рис. 2</text>
<text x="309.6" y="307.9" font-size="6.5" fill="#555" text-anchor="middle" font-weight="normal" >A-A</text>
<clipPath id="cA2"><path d="M303.8 322.34 A7.8 7.8 0 0 1 316.6 322.34 V331.26 A7.8 7.8 0 0 1 303.8 331.26 Z M314.1 326.8 A3.9 3.9 0 1 0 306.3 326.8 A3.9 3.9 0 1 0 314.1 326.8 Z" clip-rule="evenodd"/></clipPath>
<path d="M290 340L315 315M292.4 340L317.4 315M294.8 340L319.8 315M297.2 340L322.2 315M299.6 340L324.6 315M302 340L327 315M304.4 340L329.4 315M306.8 340L331.8 315M309.2 340L334.2 315M311.6 340L336.6 315M314 340L339 315M316.4 340L341.4 315M318.8 340L343.8 315M321.2 340L346.2 315M323.6 340L348.6 315M326 340L351 315M328.4 340L353.4 315" stroke="#111" stroke-width="0.96" fill="none" clip-path="url(#cA2)"/>
<path d="M303.8 322.34 A7.8 7.8 0 0 1 316.6 322.34 V331.26 A7.8 7.8 0 0 1 303.8 331.26 Z" stroke="#181818" stroke-width="1.08" fill="none" />
<circle cx="310.2" cy="326.8" r="3.9" stroke="#222" stroke-width="0.8" fill="none"/>
<path d="M308.6 325.8 A1.8 1.8 0 0 1 311.8 325.8" stroke="#181818" stroke-width="0.72" fill="none" />
<line x1="310.5" y1="316.5" x2="310.5" y2="337.5" stroke="#444" stroke-width="0.6" />
<line x1="301.5" y1="326.5" x2="319" y2="326.5" stroke="#444" stroke-width="0.6" />
<line x1="292.5" y1="319" x2="292.5" y2="334.7" stroke="#181818" stroke-width="0.96" />
<line x1="292.2" y1="319.5" x2="310.2" y2="319.5" stroke="#181818" stroke-width="0.96" />
<line x1="292.2" y1="334.5" x2="310.2" y2="334.5" stroke="#181818" stroke-width="0.96" />
<polygon points="292.5,318.6 293.75,323.6 291.25,323.6" fill="#111"/>
<polygon points="292.5,335.2 291.25,330.2 293.75,330.2" fill="#111"/>
<text x="289.6" y="326.6" font-size="7" fill="#555" text-anchor="middle" font-weight="normal" transform="rotate(-90 289.6 326.6)" >D</text>
<line x1="303.5" y1="331" x2="303.5" y2="348" stroke="#181818" stroke-width="0.96" />
<line x1="316.5" y1="331" x2="316.5" y2="348" stroke="#181818" stroke-width="0.96" />
<line x1="291.6" y1="347.5" x2="329.5" y2="347.5" stroke="#181818" stroke-width="0.96" />
<polygon points="303.8,347.5 297.3,348.88 297.3,346.12" fill="#111"/>
<polygon points="316.6,347.5 323.1,346.12 323.1,348.88" fill="#111"/>
<text x="310.2" y="346" font-size="7" fill="#555" text-anchor="middle" font-weight="normal" >B</text>
<path d="M297.4 319.8 L318.6 330.7 C320.5 331.7 321 333.3 323.5 333.5 H329.5" stroke="#181818" stroke-width="0.84" fill="none" />
<polygon points="306.7,325 301.24,323.6 302.38,321.37" fill="#111"/>
<polygon points="313.7,328.6 319.16,330 318.02,332.23" fill="#111"/>
<text x="327.6" y="332.2" font-size="7.5" fill="#555" text-anchor="middle" font-weight="normal" >d</text>
<text x="362.8" y="307.9" font-size="6.5" fill="#555" text-anchor="middle" font-weight="normal" >B-B</text>
<clipPath id="cB3"><path d="M353.55 321.6 L358.15 316.8 Q363.4 315.2 368.65 316.8 L373.25 321.6 V331.6 L368.65 336.4 Q363.4 338 358.15 336.4 L353.55 331.6 Z M369 326.6 A5.6 5.6 0 1 0 357.8 326.6 A5.6 5.6 0 1 0 369 326.6 Z" clip-rule="evenodd"/></clipPath>
<path d="M330 345L365 310M332.4 345L367.4 310M334.8 345L369.8 310M337.2 345L372.2 310M339.6 345L374.6 310M342 345L377 310M344.4 345L379.4 310M346.8 345L381.8 310M349.2 345L384.2 310M351.6 345L386.6 310M354 345L389 310M356.4 345L391.4 310M358.8 345L393.8 310M361.2 345L396.2 310M363.6 345L398.6 310M366 345L401 310M368.4 345L403.4 310M370.8 345L405.8 310M373.2 345L408.2 310M375.6 345L410.6 310M378 345L413 310M380.4 345L415.4 310M382.8 345L417.8 310" stroke="#222" stroke-width="0.8999999999999999" fill="none" clip-path="url(#cB3)"/>
<path d="M353.55 321.6 L358.15 316.8 Q363.4 315.2 368.65 316.8 L373.25 321.6 V331.6 L368.65 336.4 Q363.4 338 358.15 336.4 L353.55 331.6 Z" stroke="#181818" stroke-width="1.08" fill="none" />
<circle cx="363.4" cy="326.6" r="5.6" stroke="#222" stroke-width="0.8" fill="none"/>
<line x1="363.5" y1="313" x2="363.5" y2="340.5" stroke="#444" stroke-width="0.6" />
<line x1="350.5" y1="326.5" x2="376.5" y2="326.5" stroke="#444" stroke-width="0.6" />
<line x1="346.5" y1="316" x2="346.5" y2="337.2" stroke="#181818" stroke-width="0.96" />
<line x1="346.8" y1="316.5" x2="363.4" y2="316.5" stroke="#181818" stroke-width="0.96" />
<line x1="346.8" y1="337.5" x2="363.4" y2="337.5" stroke="#181818" stroke-width="0.96" />
<polygon points="347.3,315.6 348.68,321.6 345.93,321.6" fill="#111"/>
<polygon points="347.3,337.8 345.93,331.8 348.68,331.8" fill="#111"/>
<text x="344.6" y="326.6" font-size="7" fill="#555" text-anchor="middle" font-weight="normal" transform="rotate(-90 344.6 326.6)" >D</text>
<line x1="353.5" y1="332" x2="353.5" y2="351.4" stroke="#181818" stroke-width="0.96" />
<line x1="373.5" y1="332" x2="373.5" y2="351.4" stroke="#181818" stroke-width="0.96" />
<line x1="353.55" y1="350.5" x2="373.25" y2="350.5" stroke="#181818" stroke-width="0.96" />
<polygon points="353.55,350.9 360.05,349.52 360.05,352.27" fill="#111"/>
<polygon points="373.25,350.9 366.75,352.27 366.75,349.52" fill="#111"/>
<text x="363.9" y="348" font-size="7" fill="#555" text-anchor="middle" font-weight="normal" >B</text>
<path d="M347.2 317.2 L378.7 333.3 C380.5 334.2 381 334.6 382.5 334.6 H386" stroke="#181818" stroke-width="0.84" fill="none" />
<polygon points="358.4,324.05 352.43,322.54 353.69,320.09" fill="#111"/>
<polygon points="368.4,329.15 374.37,330.66 373.11,333.11" fill="#111"/>
<text x="387" y="330.5" font-size="7.5" fill="#555" text-anchor="middle" font-weight="normal" >d</text>
</svg>
</body></html>
